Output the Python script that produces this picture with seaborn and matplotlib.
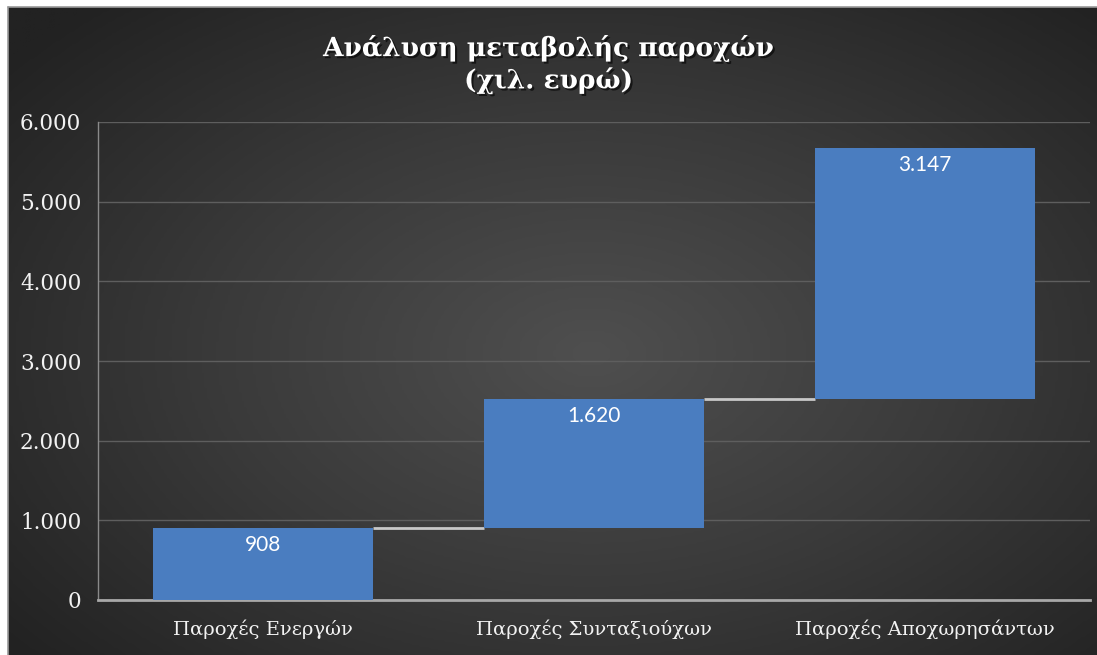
import numpy as np
import pandas as pd
import matplotlib
matplotlib.use('Agg')
import matplotlib.pyplot as plt
import matplotlib.patheffects as pe
from matplotlib.colors import LinearSegmentedColormap
import seaborn as sns

# --- data ---
categories = ['Παροχές Ενεργών', 'Παροχές Συνταξιούχων', 'Παροχές Αποχωρησάντων']
changes = [908, 1620, 3147]
yticks = [0, 1000, 2000, 3000, 4000, 5000, 6000]
title = 'Ανάλυση μεταβολής παροχών\n(χιλ. ευρώ)'

ends = np.cumsum(changes)
starts = ends - np.array(changes)
df = pd.DataFrame({'category': categories, 'change': changes, 'start': starts, 'end': ends})


def fmt(v):
    return f'{int(v):,}'.replace(',', '.')


sns.set_theme(style='dark')
plt.rcParams['font.family'] = ['DejaVu Serif']

W, H = 1097, 655
fig = plt.figure(figsize=(W / 100, H / 100), dpi=100)
fig.patch.set_facecolor('white')
fig.patch.set_edgecolor('white')

# dark radial background panel (runs past right/bottom edges)
bg = fig.add_axes([8 / W, -0.02, 1.02 - 8 / W, (H - 7) / H + 0.02], zorder=-5)
gx, gy = np.meshgrid(np.linspace(-1, 1, 400), np.linspace(-1, 1, 300))
r = np.sqrt(((gx - 0.05) / 1.0) ** 2 + ((gy - 0.05) / 1.05) ** 2)
bg_cmap = LinearSegmentedColormap.from_list('bg', ['#4f4f4f', '#3a3a3a', '#222222'])
bg.imshow(np.clip(r / 1.35, 0, 1), cmap=bg_cmap, aspect='auto', extent=[0, 1, 0, 1],
          vmin=0, vmax=1, interpolation='bilinear')
bg.set_xlim(0, 1)
bg.set_ylim(0, 1)
bg.set_axis_off()
fig.add_artist(plt.Line2D([8 / W, 1], [(H - 7) / H] * 2, color='#9a9a9a', lw=1.2))
fig.add_artist(plt.Line2D([8 / W] * 2, [0, (H - 7) / H], color='#9a9a9a', lw=1.2))

ax = fig.add_axes([98 / W, 1 - 600 / H, (1090 - 98) / W, (600 - 122) / H])
ax.patch.set_alpha(0)

sns.barplot(data=df, x='category', y='change', bottom=df['start'].values,
            color='#4a7dc0', saturation=1, width=0.665, ax=ax, zorder=3,
            edgecolor='none', linewidth=0)

# connectors between bars
bars = ax.patches
for i in range(len(bars) - 1):
    x0 = bars[i].get_x() + bars[i].get_width()
    x1 = bars[i + 1].get_x()
    ax.hlines(ends[i], x0, x1, color='#c8c8c8', lw=2, zorder=2)

# value labels
for b, v in zip(bars, changes):
    ax.annotate(fmt(v), (b.get_x() + b.get_width() / 2, b.get_y() + b.get_height()),
                xytext=(0, -5), textcoords='offset points', ha='center', va='top',
                color='white', fontsize=15, family=['Lato', 'DejaVu Sans'], zorder=5)

ax.set_xlim(-0.5, 2.5)
ax.set_ylim(0, 6000)
ax.set_yticks(yticks)
ax.set_yticklabels([fmt(t) for t in yticks])
ax.yaxis.grid(True, color='#5e5e5e', lw=1, zorder=0)
ax.xaxis.grid(False)
ax.set_xlabel('')
ax.set_ylabel('')
ax.tick_params(axis='both', colors='#f2f2f2', labelsize=14, length=0)
ax.tick_params(axis='y', labelsize=15.5, pad=12)
ax.tick_params(axis='x', pad=14)
for s in ['top', 'right']:
    ax.spines[s].set_visible(False)
ax.spines['bottom'].set_color('#a8a8a8')
ax.spines['bottom'].set_linewidth(2)
ax.spines['left'].set_color('#8a8a8a')
ax.spines['left'].set_linewidth(1)

fig.text(0.5, 1 - 64 / H, title, ha='center', va='center', color='white',
         fontsize=19, fontweight='bold', linespacing=1.3,
         path_effects=[pe.withSimplePatchShadow(offset=(1.5, -1.5), shadow_rgbFace='black', alpha=0.6)])

fig.savefig('out.png', dpi=100)
